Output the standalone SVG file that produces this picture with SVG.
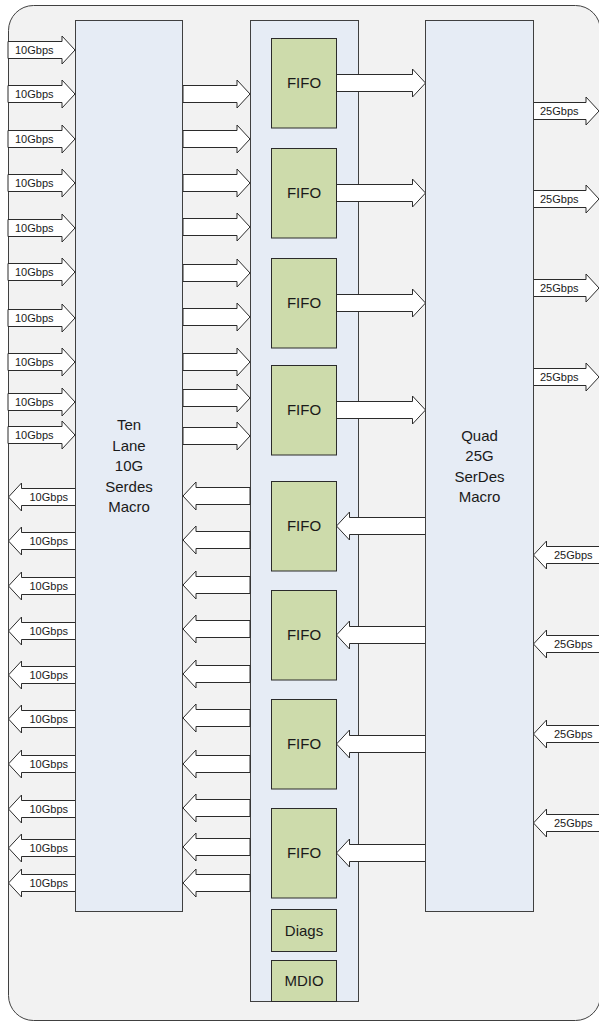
<svg xmlns="http://www.w3.org/2000/svg" width="599" height="1022" viewBox="0 0 599 1022">
<style>
.bg{fill:#f2f2f2;stroke:#404040;stroke-width:1}
.blk{fill:#e6ecf5;stroke:#404040;stroke-width:1}
.fifo{fill:#cddbab;stroke:#2b2b2b;stroke-width:1}
.arr{fill:#ffffff;stroke:#2b2b2b;stroke-width:1}
.t{font-family:"Liberation Sans",Arial,sans-serif;font-size:15px;fill:#1a1a1a;text-anchor:middle}
.s{font-family:"Liberation Sans",Arial,sans-serif;font-size:11px;fill:#1a1a1a}
.e{text-anchor:end}
</style>
<defs>
<path id="aR" class="arr" d="M-67,-8.5H-13V-14L0,0L-13,14V8.5H-67Z"/>
<path id="aL" class="arr" d="M67,-8.5H13V-14L0,0L13,14V8.5H67Z"/>
<path id="bR" class="arr" d="M-89,-8.5H-13V-14L0,0L-13,14V8.5H-89Z"/>
<path id="bL" class="arr" d="M89,-8.5H13V-14L0,0L13,14V8.5H89Z"/>
<path id="cR" class="arr" d="M-66,-8.5H-13V-14L0,0L-13,14V8.5H-66Z"/>
<path id="cL" class="arr" d="M70,-8.5H13V-14L0,0L13,14V8.5H70Z"/>
</defs>
<rect id="frame" class="bg" x="8.5" y="5.5" width="592" height="1015" rx="25" ry="25"/>
<g id="middle">
<rect class="blk" x="250.5" y="20.5" width="108" height="981"/>
</g>
<g id="connectors">
<use href="#aR" x="75" y="50"/><use href="#aR" x="75" y="94"/><use href="#aR" x="75" y="139"/><use href="#aR" x="75" y="183"/><use href="#aR" x="75" y="228"/><use href="#aR" x="75" y="272"/><use href="#aR" x="75" y="318"/><use href="#aR" x="75" y="362"/><use href="#aR" x="75" y="402"/><use href="#aR" x="75" y="435"/>
<use href="#aL" x="8.5" y="497"/><use href="#aL" x="8.5" y="541"/><use href="#aL" x="8.5" y="586"/><use href="#aL" x="8.5" y="631"/><use href="#aL" x="8.5" y="675"/><use href="#aL" x="8.5" y="719"/><use href="#aL" x="8.5" y="764"/><use href="#aL" x="8.5" y="809"/><use href="#aL" x="8.5" y="848"/><use href="#aL" x="8.5" y="883"/>
<use href="#aR" x="250" y="94"/><use href="#aR" x="250" y="139"/><use href="#aR" x="250" y="183"/><use href="#aR" x="250" y="227"/><use href="#aR" x="250" y="273"/><use href="#aR" x="250" y="317"/><use href="#aR" x="250" y="362"/><use href="#aR" x="250" y="398"/><use href="#aR" x="250" y="436"/>
<use href="#aL" x="183" y="496"/><use href="#aL" x="183" y="540"/><use href="#aL" x="183" y="585"/><use href="#aL" x="183" y="629"/><use href="#aL" x="183" y="674"/><use href="#aL" x="183" y="718"/><use href="#aL" x="183" y="764"/><use href="#aL" x="183" y="808"/><use href="#aL" x="183" y="847"/><use href="#aL" x="183" y="883"/>
<use href="#bR" x="425.5" y="83"/><use href="#bR" x="425.5" y="193"/><use href="#bR" x="425.5" y="303"/><use href="#bR" x="425.5" y="410"/>
<use href="#bL" x="336.5" y="526"/><use href="#bL" x="336.5" y="635"/><use href="#bL" x="336.5" y="744"/><use href="#bL" x="336.5" y="853"/>
<use href="#cR" x="599" y="111"/><use href="#cR" x="599" y="199"/><use href="#cR" x="599" y="288"/><use href="#cR" x="599" y="377"/>
<use href="#cL" x="533.5" y="555"/><use href="#cL" x="533.5" y="644"/><use href="#cL" x="533.5" y="734"/><use href="#cL" x="533.5" y="823"/>
</g>
<g id="labels">
<text class="s" x="15" y="54">10Gbps</text><text class="s" x="15" y="98">10Gbps</text><text class="s" x="15" y="143">10Gbps</text><text class="s" x="15" y="187">10Gbps</text><text class="s" x="15" y="232">10Gbps</text><text class="s" x="15" y="276">10Gbps</text><text class="s" x="15" y="322">10Gbps</text><text class="s" x="15" y="366">10Gbps</text><text class="s" x="15" y="406">10Gbps</text><text class="s" x="15" y="439">10Gbps</text>
<text class="s e" x="68" y="501">10Gbps</text><text class="s e" x="68" y="545">10Gbps</text><text class="s e" x="68" y="590">10Gbps</text><text class="s e" x="68" y="635">10Gbps</text><text class="s e" x="68" y="679">10Gbps</text><text class="s e" x="68" y="723">10Gbps</text><text class="s e" x="68" y="768">10Gbps</text><text class="s e" x="68" y="813">10Gbps</text><text class="s e" x="68" y="852">10Gbps</text><text class="s e" x="68" y="887">10Gbps</text>
<text class="s" x="540" y="115">25Gbps</text><text class="s" x="540" y="203">25Gbps</text><text class="s" x="540" y="292">25Gbps</text><text class="s" x="540" y="381">25Gbps</text>
<text class="s" x="554" y="559">25Gbps</text><text class="s" x="554" y="648">25Gbps</text><text class="s" x="554" y="738">25Gbps</text><text class="s" x="554" y="827">25Gbps</text>
</g>
<g id="ten-lane">
<rect class="blk" x="75.5" y="20.5" width="107" height="891"/>
<text class="t" x="129" y="430">Ten</text><text class="t" x="129" y="450.5">Lane</text><text class="t" x="129" y="471">10G</text><text class="t" x="129" y="491.5">Serdes</text><text class="t" x="129" y="512">Macro</text>
</g>
<g id="quad">
<rect class="blk" x="425.5" y="20.5" width="108" height="891"/>
<text class="t" x="479.5" y="440.5">Quad</text><text class="t" x="479.5" y="461">25G</text><text class="t" x="479.5" y="481.5">SerDes</text><text class="t" x="479.5" y="502">Macro</text>
</g>
<g id="fifo1"><rect class="fifo" x="271.5" y="38.5" width="65" height="89.5"/><text class="t" x="304" y="88">FIFO</text></g>
<g id="fifo2"><rect class="fifo" x="271.5" y="148.5" width="65" height="89.5"/><text class="t" x="304" y="198">FIFO</text></g>
<g id="fifo3"><rect class="fifo" x="271.5" y="258.5" width="65" height="89.5"/><text class="t" x="304" y="308">FIFO</text></g>
<g id="fifo4"><rect class="fifo" x="271.5" y="365.5" width="65" height="89.5"/><text class="t" x="304" y="415">FIFO</text></g>
<g id="fifo5"><rect class="fifo" x="271.5" y="481.5" width="65" height="89.5"/><text class="t" x="304" y="531">FIFO</text></g>
<g id="fifo6"><rect class="fifo" x="271.5" y="590.5" width="65" height="89.5"/><text class="t" x="304" y="640">FIFO</text></g>
<g id="fifo7"><rect class="fifo" x="271.5" y="699.5" width="65" height="89.5"/><text class="t" x="304" y="749">FIFO</text></g>
<g id="fifo8"><rect class="fifo" x="271.5" y="808.5" width="65" height="89.5"/><text class="t" x="304" y="858">FIFO</text></g>
<g id="diags"><rect class="fifo" x="271.5" y="909.5" width="65" height="42"/><text class="t" x="304" y="936">Diags</text></g>
<g id="mdio"><rect class="fifo" x="271.5" y="960.5" width="65" height="41"/><text class="t" x="304" y="986">MDIO</text></g>
</svg>
